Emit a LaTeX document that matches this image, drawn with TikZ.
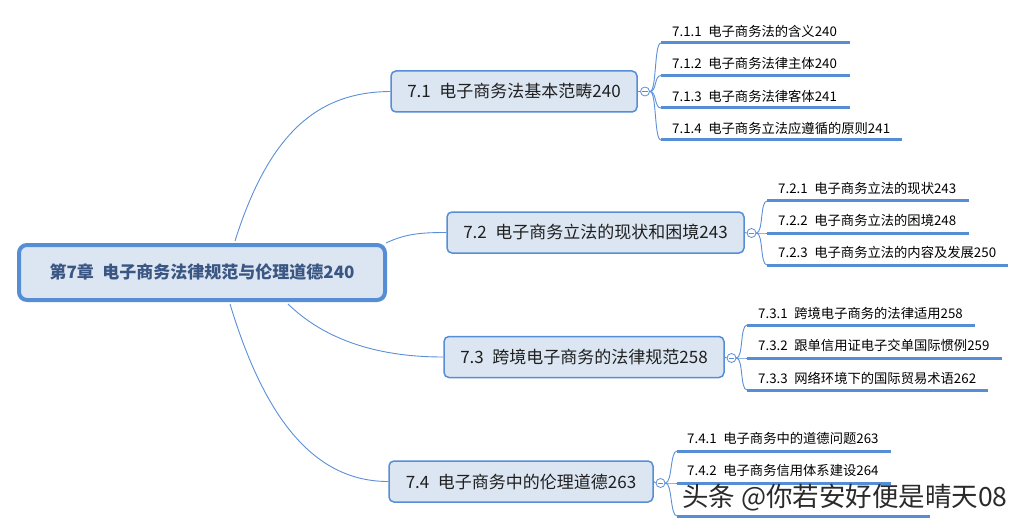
\documentclass[tikz,border=0pt]{standalone}
\usepackage{fontspec}
\newfontfamily\cjk{Noto Sans CJK SC}
\usetikzlibrary{calc}
\definecolor{lineblue}{HTML}{5B8FD6}
\definecolor{boxblue}{HTML}{558ED5}
\definecolor{boxfill}{HTML}{DCE6F2}
\definecolor{roottext}{HTML}{3A5683}
\definecolor{wmgray}{HTML}{2A2A2A}
\tikzset{
  rootbox/.style={draw=boxblue, line width=4pt, fill=boxfill, rounded corners=8pt,
    minimum width=366pt, minimum height=55pt, inner sep=0pt,
    font=\cjk\bfseries\fontsize{17}{20}\selectfont, text=roottext},
  topicbox/.style={draw=boxblue, line width=1.5pt, fill=boxfill, rounded corners=5pt,
    minimum height=41pt, inner sep=0pt, font=\cjk\fontsize{17}{20}\selectfont, text=black!88},
  subtext/.style={anchor=west, inner sep=0pt, font=\cjk\fontsize{13.3}{15}\selectfont, text=black},
  uline/.style={draw=boxblue, line width=3pt},
  conn/.style={draw=lineblue, line width=0.9pt},
  fold/.style={circle, draw=lineblue, line width=0.8pt, fill=white, minimum size=9pt, inner sep=0pt},
  wm/.style={inner sep=0pt, anchor=west, font=\cjk\fontsize{26.5}{30}\selectfont}
}
\newcommand{\foldminus}[1]{\draw[lineblue, line width=0.7pt] ($(#1.center)+(-2.6pt,0)$) -- ($(#1.center)+(2.6pt,0)$);}
\begin{document}
\begin{tikzpicture}[x=1pt, y=-1pt]
\useasboundingbox (0,0) rectangle (1026,532);

% root
\node[rootbox] (root) at (202,272.5) {第7章\hspace{0.5em}电子商务法律规范与伦理道德240};

% topics
\node[topicbox, minimum width=246pt] (t1) at (514,91.5) {7.1\hspace{0.5em}电子商务法基本范畴240};
\node[topicbox, minimum width=297pt] (t2) at (595.5,232.5) {7.2\hspace{0.5em}电子商务立法的现状和困境243};
\node[topicbox, minimum width=280pt] (t3) at (584,357) {7.3\hspace{0.5em}跨境电子商务的法律规范258};
\node[topicbox, minimum width=264pt] (t4) at (521,481.5) {7.4\hspace{0.5em}电子商务中的伦理道德263};

% root connectors
\coordinate (r1) at (235,241);
\coordinate (r2) at (386,243);
\coordinate (r3) at (288,304);
\coordinate (r4) at (230,304);
\draw[conn] (r1) .. controls (270,130) and (320,92) .. (t1.west);
\draw[conn] (r2) .. controls (405,234) and (420,232.5) .. (t2.west);
\draw[conn] (r3) .. controls (322,337) and (372,357) .. (t3.west);
\draw[conn] (r4) .. controls (265,420) and (315,481.5) .. (t4.west);

% fold markers
\node[fold] (c1) at (645,91.5) {};
\node[fold] (c2) at (751.5,233) {};
\node[fold] (c3) at (731.5,358) {};
\node[fold] (c4) at (660.5,483) {};
\draw[conn] (t1.east) -- (c1.west);
\draw[conn] (t2.east) -- (c2.west);
\draw[conn] (t3.east) -- (c3.west);
\draw[conn] (t4.east) -- (c4.west);

% 7.1 children
\coordinate (a1s) at (661,43);  \coordinate (a1e) at (850,43);
\coordinate (a2s) at (661,75.5);  \coordinate (a2e) at (850,75.5);
\coordinate (a3s) at (661,108); \coordinate (a3e) at (850,108);
\coordinate (a4s) at (661,140); \coordinate (a4e) at (902,140);
\node[subtext] (s11) at (672,31) {7.1.1\hspace{0.5em}电子商务法的含义240};
\node[subtext] (s12) at (672,63.5) {7.1.2\hspace{0.5em}电子商务法律主体240};
\node[subtext] (s13) at (672,96) {7.1.3\hspace{0.5em}电子商务法律客体241};
\node[subtext] (s14) at (672,128) {7.1.4\hspace{0.5em}电子商务立法应遵循的原则241};
\foreach \a/\b in {a1s/a1e,a2s/a2e,a3s/a3e,a4s/a4e}{\draw[uline] (\a) -- (\b);}
\foreach \a in {a1s,a2s,a3s,a4s}{\draw[conn] (c1.east) .. controls +(7,0) and +(-7,0) .. (\a);}

% 7.2 children
\coordinate (b1s) at (767,201);  \coordinate (b1e) at (969,201);
\coordinate (b2s) at (767,233);  \coordinate (b2e) at (969,233);
\coordinate (b3s) at (767,265);  \coordinate (b3e) at (1008,265);
\node[subtext] (s21) at (778,188) {7.2.1\hspace{0.5em}电子商务立法的现状243};
\node[subtext] (s22) at (778,220) {7.2.2\hspace{0.5em}电子商务立法的困境248};
\node[subtext] (s23) at (778,252) {7.2.3\hspace{0.5em}电子商务立法的内容及发展250};
\foreach \a/\b in {b1s/b1e,b2s/b2e,b3s/b3e}{\draw[uline] (\a) -- (\b);}
\foreach \a in {b1s,b2s,b3s}{\draw[conn] (c2.east) .. controls +(7,0) and +(-7,0) .. (\a);}

% 7.3 children
\coordinate (d1s) at (747,325);  \coordinate (d1e) at (975,325);
\coordinate (d2s) at (747,358);  \coordinate (d2e) at (1002,358);
\coordinate (d3s) at (747,390);  \coordinate (d3e) at (988,390);
\node[subtext] (s31) at (758,313) {7.3.1\hspace{0.5em}跨境电子商务的法律适用258};
\node[subtext] (s32) at (758,345.5) {7.3.2\hspace{0.5em}跟单信用证电子交单国际惯例259};
\node[subtext] (s33) at (758,378) {7.3.3\hspace{0.5em}网络环境下的国际贸易术语262};
\foreach \a/\b in {d1s/d1e,d2s/d2e,d3s/d3e}{\draw[uline] (\a) -- (\b);}
\foreach \a in {d1s,d2s,d3s}{\draw[conn] (c3.east) .. controls +(7,0) and +(-7,0) .. (\a);}

% 7.4 children
\coordinate (e1s) at (677,451);  \coordinate (e1e) at (891,451);
\coordinate (e2s) at (677,483);  \coordinate (e2e) at (891,483);
\coordinate (e3s) at (677,516);  \coordinate (e3e) at (930,516);
\node[subtext] (s41) at (687,438) {7.4.1\hspace{0.5em}电子商务中的道德问题263};
\node[subtext] (s42) at (687,470) {7.4.2\hspace{0.5em}电子商务信用体系建设264};
\foreach \a/\b in {e1s/e1e,e2s/e2e,e3s/e3e}{\draw[uline] (\a) -- (\b);}
\foreach \a in {e1s,e2s,e3s}{\draw[conn] (c4.east) .. controls +(7,0) and +(-7,0) .. (\a);}

\foldminus{c1}\foldminus{c2}\foldminus{c3}\foldminus{c4}

% watermark
\node[wm, text=wmgray] (wmk) at (682,498) {头条 @你若安好便是晴天08};
\end{tikzpicture}
\end{document}
